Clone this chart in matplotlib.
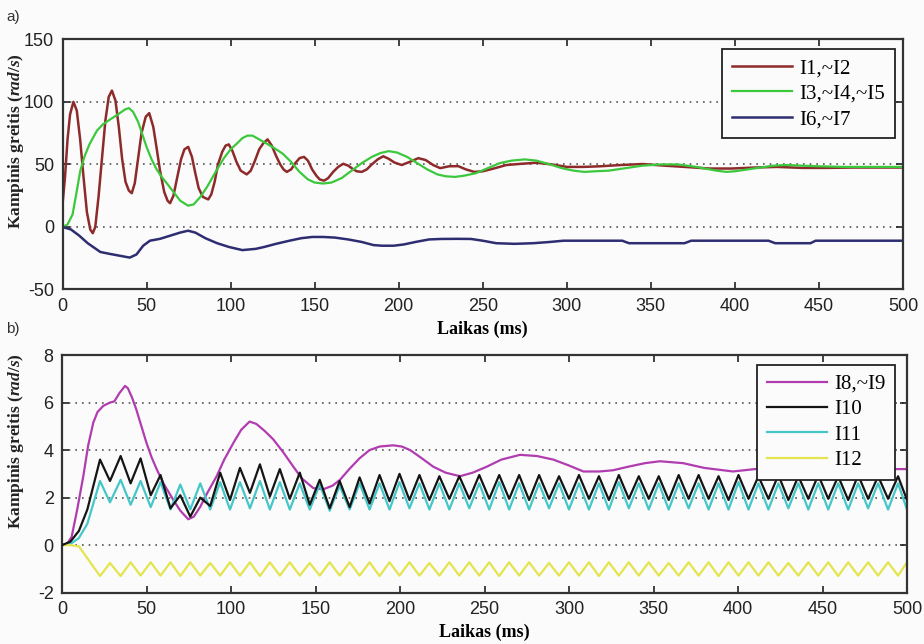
import matplotlib
matplotlib.use("Agg")
import matplotlib.pyplot as plt

# ---------------- data: panel a ----------------
t_red = [0, 1.5, 3, 4.5, 6.5, 8.5, 10.5, 12.5, 14.5, 16.5, 18, 19.5, 21.5, 23.5, 25.5, 27.5, 29.4,
         31.5, 33.5, 35.5, 37.5, 39.5, 41.2, 43, 45, 47, 49.5, 51.6, 54, 56, 58, 60.5, 62.5, 64,
         66, 68, 70.5, 72.5, 74.8, 77, 79, 81, 83.5, 86.7, 88.5, 90.5, 92.5, 95, 97, 98.9, 101,
         103.5, 106, 109.6, 112, 114.5, 117, 119.5, 122, 124.5, 127, 129.5, 131.5, 133.4, 136,
         138.5, 141, 143.7, 146, 148.5, 151, 153, 155.6, 158, 161, 164, 167, 170, 172.5, 175,
         178, 181, 184, 187.5, 190.8, 194, 197.5, 201.8, 206.5, 211.7, 216, 220.5, 224.7, 230,
         235.4, 240, 245, 250, 256, 264, 273, 282, 291, 300, 310, 320, 332, 345, 358, 370, 385,
         398, 412, 425, 440, 455, 470, 485, 500]
v_red = [18, 40, 70, 90, 100, 93, 70, 40, 12, -2, -5, 0, 25, 55, 85, 104, 109,
         101, 80, 54, 36, 29, 27, 35, 55, 75, 88, 91, 80, 63, 45, 28, 21, 19,
         25, 38, 54, 62, 64, 56, 43, 31, 24, 22, 26, 36, 50, 60, 65, 66, 61,
         52, 45, 42, 45, 53, 62, 67, 70, 65, 57, 50, 46, 44, 46,
         51, 55, 56, 53, 46, 41, 38, 37, 39, 44, 48, 50.5, 49, 46.5, 44.5,
         44, 46, 50, 54, 56.5, 54.5, 51.5, 49.5, 52, 55, 53.5, 49.5, 47, 48.5,
         48.6, 46, 44, 44.5, 46.5, 49.5, 50.5, 51.3, 50, 48, 48, 48.5, 49.5, 50.3, 49, 48, 46.7,
         46.7, 47.5, 48, 47.2, 47.2, 47.5, 47.5, 47.5]

t_green = [0, 3, 6, 8, 10.6, 13, 16, 20.5, 24, 28.4, 33, 37.3, 39.5, 42, 45, 47.5, 50, 53, 56,
           59, 62, 66, 70, 74.7, 78, 82, 86, 91.5, 96, 100, 104, 107, 110, 113, 117, 121, 126,
           131, 136, 141, 146, 150, 155, 160, 166, 172, 178, 184, 189, 194, 199, 205, 211, 217,
           223, 228, 233.5, 239, 246, 253, 260, 267, 275, 282, 290, 297, 304, 310.5, 317, 325,
           335, 345, 356, 366, 377, 389, 395, 400, 410, 423, 430, 440, 450, 465, 480, 500]
v_green = [0, 2, 10, 25, 45, 56, 66, 77, 82, 86, 90, 94, 95, 92, 84, 74, 64, 54, 46,
           40, 35, 28, 21, 17, 18, 24, 32, 45, 55, 62, 67, 71, 73, 73, 70, 67, 63,
           58.6, 52, 44, 38, 35.5, 34.7, 35.5, 39, 45, 51, 56, 59, 60.6, 59.5, 56, 51, 46,
           42, 40.5, 40, 41, 43, 47, 51, 53, 54, 53, 50, 47, 45, 44, 44.5, 45,
           47, 49, 50, 50, 48, 45, 44, 44.5, 46.5, 49, 49.5, 49, 48.5, 48, 48, 48]

t_blue = [0, 5, 10, 15, 22.5, 28, 34, 40, 44, 48, 52, 58, 64, 70, 74.7, 79, 85, 92, 99, 107,
          115, 120, 127, 135, 142, 148.6, 155, 162, 170, 178, 185, 190, 197, 203, 210, 218, 225,
          235, 243, 250, 258, 269, 280, 290, 298, 318, 333, 337, 370, 374, 420, 424, 445, 448, 500]
v_blue = [0, -2, -7, -13, -20, -21.5, -23, -24.5, -22, -15, -11, -9.5, -7, -4.5, -3, -4.5, -9,
          -13, -16, -18.5, -17.5, -16, -13.5, -11, -9, -8, -8, -8.5, -10, -12, -14.5, -15, -15,
          -14, -12, -10, -9.6, -9.5, -9.6, -11, -13, -13.5, -13, -12, -11, -11, -11, -13, -13,
          -11, -11, -13, -13, -11, -11]

# ---------------- data: panel b ----------------
t_mag = [0, 3, 5.7, 9, 12.6, 15.5, 18.5, 21, 24.4, 28.4, 31, 34, 37.3, 39, 41.5, 44, 47, 50, 53,
         56, 60, 65.9, 70, 74.7, 78, 81.7, 86, 91.5, 96, 101.4, 106, 111, 115, 120, 125, 131,
         136.9, 142, 148.7, 154.6, 160, 164.5, 170, 176, 182, 188, 196, 201, 206, 213, 219.7,
         227, 235.5, 243, 251.3, 260, 271, 281, 290.7, 300, 308.5, 318, 326, 335, 345, 353.8,
         367.5, 380, 397, 410, 420, 440, 460, 480, 500]
v_mag = [0, 0.05, 0.35, 1.5, 2.9, 4.2, 5.15, 5.6, 5.86, 6.0, 6.05, 6.4, 6.7, 6.6, 6.2, 5.7, 5.0,
         4.3, 3.7, 3.2, 2.6, 1.9, 1.45, 1.09, 1.2, 1.6, 2.2, 2.9, 3.6, 4.3, 4.85, 5.2, 5.1, 4.8,
         4.45, 3.9, 3.3, 2.8, 2.4, 2.35, 2.5, 2.75, 3.2, 3.65, 4.0, 4.15, 4.2, 4.15, 4.0, 3.65,
         3.3, 3.05, 2.9, 3.05, 3.3, 3.6, 3.8, 3.75, 3.6, 3.35, 3.1, 3.1, 3.15, 3.3, 3.45, 3.53,
         3.45, 3.25, 3.1, 3.2, 3.25, 3.25, 3.2, 3.2, 3.2]

t_osc = [0, 5, 10, 15, 22.5, 28.4, 34.7, 40.6, 46.5, 52.5,
         58.3, 64.2, 70.0, 75.9, 81.8, 87.7, 93.6, 99.4, 105.3, 111.2,
         117.1, 123.0, 128.9, 134.8, 140.7, 146.6, 152.5, 158.4, 164.3, 170.2,
         176.1, 182.0, 187.9, 193.8, 199.7, 205.6, 211.5, 217.4, 223.3, 229.2,
         235.1, 241.0, 246.9, 252.8, 258.7, 264.6, 270.5, 276.4, 282.3, 288.2,
         294.1, 300.0, 305.9, 311.8, 317.7, 323.6, 329.5, 335.4, 341.3, 347.2,
         353.1, 359.0, 364.9, 370.8, 376.7, 382.6, 388.5, 394.4, 400.3, 406.2,
         412.1, 418.0, 423.9, 429.8, 435.7, 441.6, 447.5, 453.4, 459.3, 465.2,
         471.1, 477.0, 482.9, 488.8, 494.7, 500.0]
v_black = [0, 0.15, 0.6, 1.5, 3.6, 2.7, 3.75, 2.6, 3.65, 2.1,
           2.95, 1.55, 2.1, 1.2, 2.0, 1.65, 3.05, 1.9, 3.25, 2.2,
           3.4, 2.05, 3.2, 1.95, 3.05, 1.7, 2.75, 1.55, 2.7, 1.6,
           2.85, 1.75, 2.95, 1.85, 3.0, 1.9, 2.95, 1.9, 2.9, 1.95,
           2.9, 1.95, 2.95, 1.95, 2.95, 1.95, 2.95, 1.9, 2.95, 1.95,
           2.9, 1.95, 2.95, 1.95, 2.9, 1.9, 2.95, 1.95, 2.9, 1.95,
           2.9, 1.9, 2.95, 1.95, 2.95, 1.95, 2.9, 1.9, 2.95, 1.95,
           2.9, 1.95, 2.95, 1.9, 2.9, 1.95, 2.95, 1.95, 2.9, 1.9,
           2.95, 1.95, 2.9, 1.95, 2.9, 1.9]
v_cyan = [0, 0.05, 0.3, 0.9, 2.7, 1.8, 2.75, 1.7, 2.7, 1.6,
          2.65, 1.5, 2.55, 1.5, 2.6, 1.5, 2.65, 1.5, 2.65, 1.55,
          2.7, 1.5, 2.65, 1.5, 2.6, 1.5, 2.55, 1.45, 2.5, 1.5,
          2.6, 1.5, 2.6, 1.5, 2.65, 1.55, 2.6, 1.5, 2.6, 1.5,
          2.6, 1.55, 2.6, 1.5, 2.65, 1.5, 2.6, 1.5, 2.6, 1.55,
          2.6, 1.5, 2.6, 1.5, 2.6, 1.5, 2.65, 1.55, 2.6, 1.5,
          2.6, 1.5, 2.6, 1.55, 2.6, 1.5, 2.6, 1.5, 2.65, 1.5,
          2.6, 1.5, 2.6, 1.55, 2.6, 1.5, 2.6, 1.5, 2.6, 1.5,
          2.6, 1.55, 2.6, 1.5, 2.6, 1.5]
v_yellow = [0, 0, -0.05, -0.55, -1.3, -0.75, -1.3, -0.72, -1.28, -0.72,
            -1.28, -0.72, -1.3, -0.72, -1.28, -0.75, -1.28, -0.72, -1.28, -0.72,
            -1.3, -0.72, -1.28, -0.72, -1.28, -0.75, -1.28, -0.72, -1.28, -0.72,
            -1.28, -0.72, -1.3, -0.72, -1.28, -0.72, -1.28, -0.75, -1.28, -0.72,
            -1.28, -0.72, -1.28, -0.72, -1.3, -0.72, -1.28, -0.72, -1.28, -0.75,
            -1.28, -0.72, -1.28, -0.72, -1.3, -0.72, -1.28, -0.72, -1.28, -0.72,
            -1.28, -0.75, -1.28, -0.72, -1.28, -0.72, -1.3, -0.72, -1.28, -0.72,
            -1.28, -0.72, -1.28, -0.75, -1.28, -0.72, -1.28, -0.72, -1.3, -0.72,
            -1.28, -0.72, -1.28, -0.72, -1.28, -0.72]

labels_a = ["I1,~I2", "I3,~I4,~I5", "I6,~I7"]
labels_b = ["I8,~I9", "I10", "I11", "I12"]
xticks = [0, 50, 100, 150, 200, 250, 300, 350, 400, 450, 500]
yticks_a = [-50, 0, 50, 100, 150]
yticks_b = [-2, 0, 2, 4, 6, 8]

# ---------------- styling ----------------
plt.rcParams['mathtext.fontset'] = 'custom'
plt.rcParams['mathtext.it'] = 'Liberation Serif:italic:bold'
plt.rcParams['mathtext.rm'] = 'Liberation Serif:bold'
plt.rcParams['axes.unicode_minus'] = False

BG = '#fbfbfb'
W, H = 924, 644
fig = plt.figure(figsize=(W / 100, H / 100), dpi=100, facecolor=BG)


def px_axes(l, t, r, b):
    return fig.add_axes([l / W, 1 - b / H, (r - l) / W, (b - t) / H])


ax1 = px_axes(62.5, 39.3, 903, 289.5)
ax2 = px_axes(62, 355, 907, 592.7)

tick_font = dict(family=['Liberation Sans Narrow', 'Liberation Sans'], size=13)
serif = ['Liberation Serif']

for ax, yt, ylim in ((ax1, yticks_a, (-50, 150)), (ax2, yticks_b, (-2, 8))):
    ax.set_facecolor(BG)
    ax.set_xlim(0, 500)
    ax.set_ylim(*ylim)
    ax.set_xticks(xticks)
    ax.set_yticks(yt)
    ax.tick_params(direction='in', length=5, width=1.2, top=True, right=True, pad=6,
                   colors='#222222')
    for lab in ax.get_xticklabels() + ax.get_yticklabels():
        lab.set_fontfamily(tick_font['family'])
        lab.set_fontsize(tick_font['size'])
    for s in ax.spines.values():
        s.set_linewidth(1.6)
        s.set_color('#333333')
    ax.yaxis.grid(True, linestyle=(0, (1, 3)), color='#555555', linewidth=1.2)
    ax.set_axisbelow(True)
    ax.set_xlabel('Laikas (ms)', family=serif, fontsize=13, fontweight='bold', labelpad=4)

# panel a
ax1.plot(t_red, v_red, color='#8E2A2A', lw=1.8, label=labels_a[0])
ax1.plot(t_green, v_green, color='#3CC83C', lw=1.6, label=labels_a[1])
ax1.plot(t_blue, v_blue, color='#2E2D72', lw=1.8, label=labels_a[2])

# panel b
ax2.plot(t_mag, v_mag, color='#B03CB0', lw=1.6, label=labels_b[0])
ax2.plot(t_osc, v_black, color='#151515', lw=1.6, label=labels_b[1])
ax2.plot(t_osc, v_cyan, color='#45C6C8', lw=1.6, label=labels_b[2])
ax2.plot(t_osc, v_yellow, color='#E4E44E', lw=1.6, label=labels_b[3])
# keep black above cyan
ax2.lines[1].set_zorder(3)

for ax, anchor in ((ax1, (0.990, 0.960)), (ax2, (0.986, 0.958))):
    leg = ax.legend(loc='upper right', bbox_to_anchor=anchor, borderaxespad=0,
                    prop={'family': serif, 'size': 15}, frameon=True, fancybox=False,
                    edgecolor='#222222', facecolor=BG, framealpha=1,
                    handlelength=2.9, handletextpad=0.35, labelspacing=0.28,
                    borderpad=0.45)
    leg.get_frame().set_linewidth(1.3)

ylab = r'Kampinis greitis ($\mathit{rad/s}$)'
fig.text(16 / W, 1 - 141 / H, ylab, rotation=90, ha='center', va='center',
         family=serif, fontsize=12.5, fontweight='bold', color='#222222')
fig.text(16 / W, 1 - 441 / H, ylab, rotation=90, ha='center', va='center',
         family=serif, fontsize=12.5, fontweight='bold', color='#222222')

fig.text(6 / W, 1 - 17 / H, 'a)', ha='left', va='center', fontsize=11,
         family=['Liberation Sans'], color='#333333')
fig.text(6 / W, 1 - 329 / H, 'b)', ha='left', va='center', fontsize=11,
         family=['Liberation Sans'], color='#333333')

fig.savefig('out.png', dpi=100, facecolor=BG)
